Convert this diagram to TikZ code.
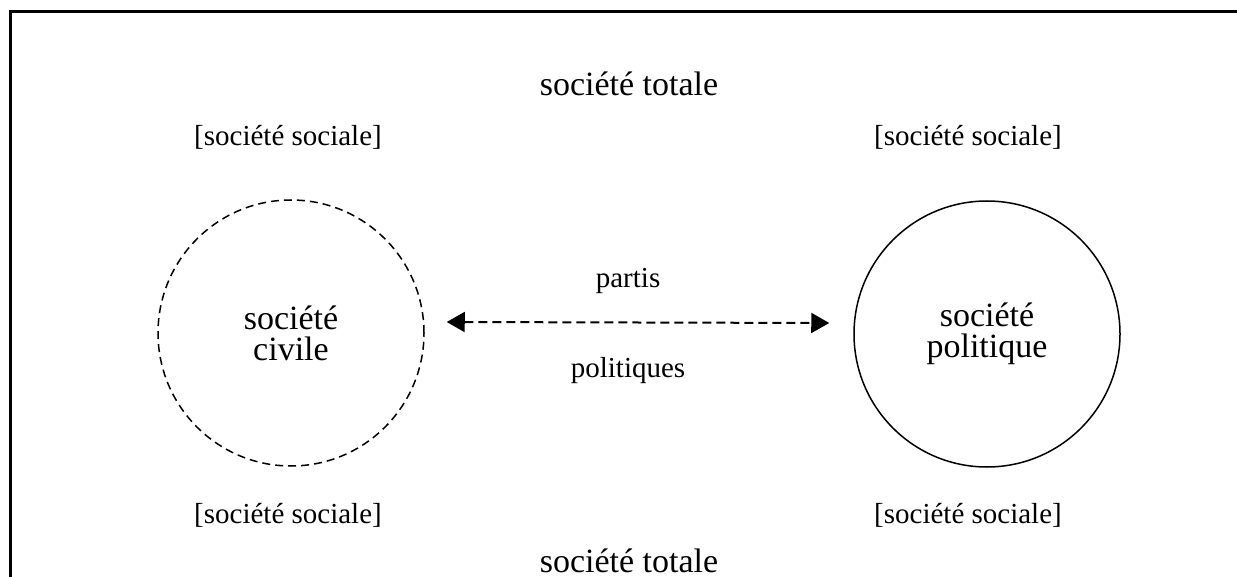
\documentclass[tikz,border=0pt]{standalone}
\usepackage{fontspec}
\setmainfont{Liberation Serif}
\usepackage{tikz}
\usetikzlibrary{arrows.meta,positioning}

\begin{document}
\begin{tikzpicture}[x=0.5pt,y=-0.5pt,
                    big/.style={font=\fontsize{17}{15.5}\selectfont,inner sep=0pt,align=center},
                    small/.style={font=\fontsize{14.5}{17}\selectfont,inner sep=0pt},
                    sphere/.style={circle,draw,line width=0.75pt,minimum size=133pt,
                                   inner sep=0pt,big},
                    link/.style={<->,>={Triangle[length=9pt,width=10pt]},line width=1pt,
                                 dash pattern=on 4.5pt off 2.5pt}]
    \useasboundingbox (0,0) rectangle (1237,577);
    % frame
    \draw[line width=1.5pt] (10,577) -- (10,12) -- (1237,12);

    \node [big]   (tottop) at (629,84)  {société totale};
    \node [big]   (totbot) at (629,561) {société totale};

    \node [sphere,dash pattern=on 4pt off 2.5pt] (civ) at (291,333) {société\\civile};
    \node [sphere]                               (pol) at (987,334) {société\\politique};

    \node [small] (socA) at (288,137) {[société sociale]};
    \node [small] (socB) at (968,137) {[société sociale]};
    \node [small] (socC) at (288,515) {[société sociale]};
    \node [small] (socD) at (968,515) {[société sociale]};

    \draw [link] ([xshift=11pt,yshift=5.5pt]civ.east) --
                 node [small,pos=0.474,above=14pt] {partis}
                 node [small,pos=0.474,below=17pt] {politiques}
                 ([xshift=-12pt,yshift=5.5pt]pol.west);
\end{tikzpicture}
\end{document}
